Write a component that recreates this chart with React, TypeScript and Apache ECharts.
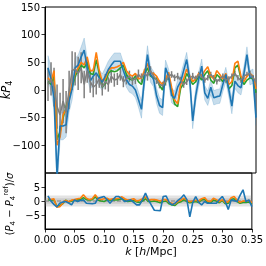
import { useEffect, useRef } from "react";
import * as echarts from "echarts";

const K = [0.005,0.01,0.015,0.02,0.025,0.03,0.035,0.04,0.045,0.05,
  0.055,0.06,0.065,0.07,0.075,0.08,0.085,0.09,0.095,0.1,
  0.105,0.11,0.115,0.12,0.125,0.13,0.135,0.14,0.145,0.15,
  0.155,0.16,0.165,0.17,0.175,0.18,0.185,0.19,0.195,0.2,
  0.205,0.21,0.215,0.22,0.225,0.23,0.235,0.24,0.245,0.25,
  0.255,0.26,0.265,0.27,0.275,0.28,0.285,0.29,0.295,0.3,
  0.305,0.31,0.315,0.32,0.325,0.33,0.335,0.34,0.345,0.35];

const blueP4 = [40,20,-15,-155,-65,-65,-63,-20,2,40,
  45,60,72,40,16,25,31,22,14,25,
  37,45,52,52,52,35,19,10,7,0,
  -17,-35,20,64,28,20,-10,-28,-32,40,
  25,-10,-15,5,15,35,55,20,-56,-10,
  20,43,-5,-15,5,-14,-12,-11,10,28,
  0,-29,16,8,4,30,64,22,25,-50];
const blueErr = [22,22,20,25,25,25,22,20,20,18,
  18,18,22,18,15,15,15,15,15,15,
  15,15,15,15,15,15,14,14,14,14,
  14,16,14,16,14,14,14,14,14,14,
  13,13,13,13,13,13,13,13,14,13,
  13,13,13,13,13,13,13,13,13,13,
  13,14,13,13,13,13,14,13,13,14];
const orangeP4 = [22,15,35,-100,-85,-45,-35,-10,10,30,
  40,50,45,60,35,35,68,35,15,20,
  35,40,40,42,45,50,35,28,25,30,
  20,22,35,48,30,30,25,15,10,20,
  32,5,-18,-25,10,20,38,25,15,20,
  30,25,35,42,25,20,35,28,20,30,
  10,15,48,52,25,15,25,30,25,2];
const greenP4 = [15,10,25,-90,-75,-50,-30,-12,5,25,
  35,45,40,50,30,28,55,30,5,12,
  30,35,33,35,40,45,28,20,18,25,
  15,10,28,40,25,22,20,8,0,15,
  25,-2,-25,-30,3,12,30,20,10,15,
  25,18,28,35,18,12,28,22,15,25,
  2,8,40,45,20,10,18,22,20,-5];
const greyP4 = [10,20,5,-30,-45,-20,-40,0,35,38,
  30,40,10,35,15,5,10,20,5,15,
  10,25,18,20,28,15,20,25,18,20,
  28,22,30,25,35,25,18,10,8,15,
  25,28,22,25,18,10,15,22,25,20,
  28,24,18,22,28,22,15,20,25,18,
  20,25,30,22,18,25,28,30,22,15];
const greyErr = [30,30,35,40,40,40,38,35,35,30,
  30,28,25,22,20,18,18,16,15,14,
  13,12,12,11,11,10,10,10,9,9,
  9,8,8,8,8,7,7,7,7,7,
  7,6,6,6,6,6,6,6,6,6,
  5,5,5,5,5,5,5,5,5,5,
  5,5,5,5,5,5,5,5,5,5];

const blueRes = [1.8,0.0,-1.2,-2.1,-0.8,-0.4,-0.2,-0.7,-1.4,0.4,
  -0.2,0.2,0.4,-0.8,-0.9,-1.0,-0.8,1.0,1.3,1.6,
  0.5,-0.8,0.5,1.6,1.6,0.8,-0.2,0.1,0.4,-0.5,
  -1.4,-1.4,0.5,2.8,0.4,-1.5,-3.3,-3.4,-3.5,1.6,
  1.8,-0.5,-1.4,-0.8,0.2,1.0,2.2,0.5,-5.7,-0.5,
  1.6,-0.5,-1.4,-0.2,-0.8,-0.8,-0.8,-0.8,0.5,1.6,
  -0.2,-3.0,0.4,0.1,-0.2,2.0,4.0,-0.2,0.4,-2.0];
const orangeRes = [1.0,0.5,0.8,-2.2,-2.0,-0.8,0.2,-0.3,0.3,0.5,
  0.8,1.0,2.2,1.0,0.5,0.8,2.2,0.8,0.5,0.8,
  1.0,0.5,0.8,0.8,1.0,1.5,0.8,0.3,0.5,0.8,
  0.0,0.3,0.8,1.5,0.3,0.5,0.5,0.3,0.0,0.5,
  0.5,-0.5,-0.8,-1.0,-0.2,0.3,1.0,0.3,-0.3,0.0,
  0.3,0.0,0.8,1.2,0.0,-0.2,1.0,0.5,-0.2,0.5,
  -0.5,-0.3,1.2,1.6,0.3,-0.5,0.0,0.0,0.2,-0.6];
const greenRes = [0.5,0.2,0.5,-1.8,-1.6,-1.0,0.3,-0.4,0.0,0.2,
  0.4,0.5,1.2,0.5,0.4,0.5,1.5,0.3,0.0,-0.2,
  0.5,0.3,0.4,0.4,0.5,0.8,0.3,-0.2,0.0,0.2,
  -0.3,-0.5,0.0,0.8,-0.2,-0.2,0.0,-0.3,-0.6,-0.2,
  0.0,-1.0,-1.4,-1.6,-0.6,-0.3,0.5,-0.2,-0.6,-0.4,
  -0.2,-0.5,0.4,0.6,-0.5,-0.8,0.4,0.0,-0.6,0.2,
  -1.0,-0.8,0.6,0.8,-0.2,-0.8,-0.5,-0.5,-0.3,-1.0];

const topYTicks = [-100, -50, 0, 50, 100, 150];
const botYTicks = [-5, 0, 5];
const bandOuter = [-2, 2];
const bandInner = [-1, 1];

const BLUE = "#1f77b4";
const ORANGE = "#ff7f0e";
const GREEN = "#2ca02c";
const GREY = "#7f7f7f";
const FONT = "DejaVu Sans";

const minus = (v: number) => String(v).replace("-", "\u2212");

export default function App() {
  const ref = useRef<HTMLDivElement>(null);
  useEffect(() => {
    const chart = echarts.init(ref.current!, undefined, { renderer: "svg" });
    const pairs = (ys: number[]) => K.map((k, i) => [k, ys[i]]);
    const tickStyle = { show: true, length: 3.5, inside: false, lineStyle: { color: "#000", width: 0.8 } };
    const labelBase = { color: "#000", fontSize: 10, fontFamily: FONT };
    const lineSeries = (name: string, data: number[], color: string, axis: number, w = 1.6) => ({
      name,
      type: "line",
      xAxisIndex: axis,
      yAxisIndex: axis,
      data: pairs(data),
      showSymbol: false,
      symbol: "none",
      clip: true,
      lineStyle: { color, width: w },
      itemStyle: { color },
      emphasis: { disabled: true },
    });
    const mkRich = (size: number) => ({
      i: { fontStyle: "italic", fontSize: size, fontFamily: FONT, lineHeight: size + 4, color: "#000" },
      n: { fontSize: size, fontFamily: FONT, lineHeight: size + 4, color: "#000" },
      s: { fontSize: size * 0.7, fontFamily: FONT, lineHeight: size * 0.8, verticalAlign: "bottom", color: "#000" },
      u: { fontSize: size * 0.7, fontFamily: FONT, lineHeight: size * 0.8, verticalAlign: "top", color: "#000" },
    });
    const option: any = {
      animation: false,
      grid: [
        { left: 45, right: 10, top: 7, height: 166, show: true, borderColor: "#000", borderWidth: 1, backgroundColor: "transparent" },
        { left: 45, right: 10, top: 173, height: 56, show: true, borderColor: "#000", borderWidth: 1, backgroundColor: "transparent" },
      ],
      xAxis: [
        { gridIndex: 0, type: "value", min: 0, max: 0.35, interval: 0.05, axisLine: { show: false }, axisTick: { show: false }, axisLabel: { show: false }, splitLine: { show: false } },
        {
          gridIndex: 1, type: "value", min: 0, max: 0.35, interval: 0.05,
          axisLine: { show: true, onZero: false, lineStyle: { color: "#000", width: 1 } },
          axisTick: tickStyle,
          axisLabel: { ...labelBase, margin: 5, formatter: (v: number) => v.toFixed(2) },
          splitLine: { show: false },
        },
      ],
      yAxis: [
        {
          gridIndex: 0, type: "value", min: -150, max: 150, interval: 50,
          axisLine: { show: true, lineStyle: { color: "#000", width: 1 } },
          axisTick: { ...tickStyle, customValues: topYTicks },
          axisLabel: { ...labelBase, margin: 5, customValues: topYTicks, formatter: (v: number) => (v === -150 ? "" : minus(v)) },
          splitLine: { show: false },
        },
        {
          gridIndex: 1, type: "value", min: -10, max: 10, interval: 5,
          axisLine: { show: true, lineStyle: { color: "#000", width: 1 } },
          axisTick: { ...tickStyle, customValues: botYTicks },
          axisLabel: { ...labelBase, margin: 5, customValues: botYTicks, formatter: (v: number) => (Math.abs(v) === 10 ? "" : minus(v)) },
          splitLine: { show: false },
        },
      ],
      series: [
        {
          type: "custom",
          xAxisIndex: 0,
          yAxisIndex: 0,
          clip: true,
          silent: true,
          data: [[0, 0]],
          encode: { x: 0, y: 1 },
          renderItem: (_p: any, api: any) => {
            const upper = K.map((k, i) => api.coord([k, blueP4[i] + blueErr[i]]));
            const lower = K.map((k, i) => api.coord([k, blueP4[i] - blueErr[i]])).reverse();
            return { type: "polygon", shape: { points: upper.concat(lower) }, style: { fill: "rgba(31,119,180,0.25)", stroke: "rgba(31,119,180,0.25)", lineWidth: 0.8 } };
          },
        },
        lineSeries("green", greenP4, GREEN, 0),
        lineSeries("orange", orangeP4, ORANGE, 0),
        lineSeries("blue", blueP4, BLUE, 0),
        lineSeries("grey", greyP4, GREY, 0),
        {
          type: "custom",
          xAxisIndex: 0,
          yAxisIndex: 0,
          clip: true,
          silent: true,
          data: K.map((k, i) => [k, greyP4[i] - greyErr[i], greyP4[i] + greyErr[i]]),
          encode: { x: 0, y: [1, 2] },
          renderItem: (_p: any, api: any) => {
            const k = api.value(0);
            const a = api.coord([k, api.value(1)]);
            const b = api.coord([k, api.value(2)]);
            return { type: "line", shape: { x1: a[0], y1: a[1], x2: b[0], y2: b[1] }, style: { stroke: GREY, lineWidth: 1.5 } };
          },
        },
        {
          type: "line",
          xAxisIndex: 1,
          yAxisIndex: 1,
          data: [[0, 0], [0.35, 0]],
          showSymbol: false,
          symbol: "none",
          lineStyle: { color: GREY, width: 1.2, type: [4, 2] },
          markArea: {
            silent: true,
            itemStyle: { color: "rgba(128,128,128,0.22)" },
            data: [
              [{ yAxis: bandOuter[0] }, { yAxis: bandOuter[1] }],
              [{ yAxis: bandInner[0] }, { yAxis: bandInner[1] }],
            ],
          },
        },
        lineSeries("greenRes", greenRes, GREEN, 1),
        lineSeries("orangeRes", orangeRes, ORANGE, 1),
        lineSeries("blueRes", blueRes, BLUE, 1),
      ],
      graphic: [
        {
          type: "text", x: 6, y: 90, rotation: Math.PI / 2,
          style: { text: "{i|kP}{s|4}", rich: mkRich(11.5), align: "center", verticalAlign: "middle", fontSize: 11.5, fontFamily: FONT },
        },
        {
          type: "text", x: 9, y: 204, rotation: Math.PI / 2,
          style: { text: "{n|(}{i|P}{s|4}{n| \u2212 }{i|P}{s|4}{u|ref}{n|)/}{i|\u03c3}", rich: mkRich(10), align: "center", verticalAlign: "middle", fontSize: 10, fontFamily: FONT },
        },
        {
          type: "text", x: 151, y: 251,
          style: { text: "{i|k}{n| [}{i|h}{n|/Mpc]}", rich: mkRich(11), align: "center", verticalAlign: "middle", fontSize: 11, fontFamily: FONT },
        },
      ],
    };
    chart.setOption(option);
    return () => chart.dispose();
  }, []);
  return <div ref={ref} style={{ position: "fixed", left: 0, top: 0, width: 266, height: 266 }} />;
}
